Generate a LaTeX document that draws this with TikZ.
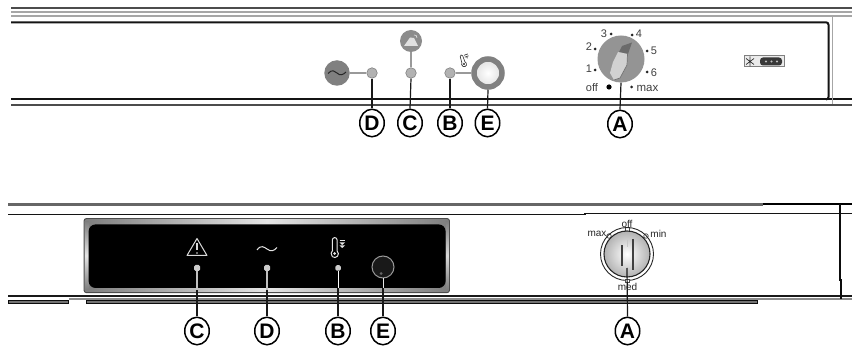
\documentclass[tikz,border=0pt]{standalone}
\usepackage{fontspec}
\setmainfont{Liberation Sans}
\usetikzlibrary{shapes.geometric}
\definecolor{txtgray}{gray}{0.25}
\tikzset{
  x=1pt,y=-1pt,
  callout/.style={ellipse,draw=black,line width=1.5pt,fill=white,minimum width=24.5pt,minimum height=27.5pt,inner sep=0pt,font=\fontsize{21}{21}\selectfont\bfseries},
  lead/.style={draw=black!90,line width=1.2pt},
  graylead/.style={draw=black!40,line width=1.5pt},
  led/.style={circle,draw=black!50,fill=black!30,line width=.6pt,minimum size=10.5pt,inner sep=0pt},
  bled/.style={rectangle,rounded corners=1.5pt,fill=black!20,minimum size=6pt,inner sep=0pt},
  scaletext/.style={text=txtgray,inner sep=0pt,font=\fontsize{11}{11}\selectfont},
  smalltext/.style={text=black!85,inner sep=0pt,font=\fontsize{10}{10}\selectfont},
  thick rule/.style={draw=black!92,line width=2pt},
  mid rule/.style={draw=black!70,line width=1.5pt},
  soft rule/.style={draw=black!35,line width=1.2pt},
  tick/.style={circle,fill=black!85,minimum size=3pt,inner sep=0pt},
  knobmark/.style={circle,draw=black!70,fill=white,line width=.7pt,minimum size=4.5pt,inner sep=0pt},
}
\begin{document}
\begin{tikzpicture}
\useasboundingbox (0,0) rectangle (852,347);
\fill[white] (0,0) rectangle (852,347);
% ===== top panel rules
\path[mid rule] (11,8) -- (852,8);
\path[soft rule,line width=2pt] (11,11.7) -- (852,11.7);
\path[soft rule] (11,16) -- (852,16);
\path[thick rule] (11,22.3) -- (826,22.3) arc[start angle=-90,end angle=0,radius=2.5] -- (828.5,97) arc[start angle=0,end angle=90,radius=2.5];
\path[thick rule] (11,98.6) -- (852,98.6);
\path[mid rule,line width=2pt] (11,104.6) -- (852,104.6);
\path[draw=black!35,line width=1.3pt] (832.8,16) -- (832.8,104);
% ===== top indicators
\node[circle,fill=black!50,minimum size=25.5pt,inner sep=0pt] (sine) at (337,73) {};
\draw[black!85,line width=1pt] (328,73.5) .. controls (332,69) and (335,71) .. (337,73) .. controls (340,76) and (343,75) .. (346,72);
\node[circle,fill=black!45,minimum size=22pt,inner sep=0pt] (warn) at (411,41) {};
\fill[black!12] (404,46) -- (410,37.5) -- (414,38) -- (418,46) -- cycle;
\draw[black!10,line width=.6pt] (414,35) .. controls (416,34.5) and (417,36) .. (417,38);
\node[led] (ledD) at (372,73) {};
\node[led] (ledC) at (411,73) {};
\node[led] (ledB) at (450,73) {};
\node[circle,draw=black!50,line width=5.5pt,minimum size=28pt,inner sep=0pt,inner color=white,outer color=black!12] (knobE) at (488,73) {};
\draw[graylead] (sine) -- (ledD);
\draw[graylead] (warn) -- (ledC);
\draw[graylead] (ledB) -- (knobE);
% top thermometer icon
\begin{scope}[shift={(463,61)},rotate=20]
  \draw[black!75,line width=.7pt] (-1.1,-5) arc[start angle=180,end angle=360,radius=1.3] -- (1.5,1.5) arc[start angle=-50,end angle=230,radius=2.5] -- cycle;
  \fill[black!75] (-.1,3.2) circle (1.2);
  \draw[black!75,line width=.7pt] (3,-5) -- (7,-5) (3,-3) -- (7,-3) (5,-3) -- (5,-1);
\end{scope}
% ===== top dial
\node[circle,fill=black!42,minimum size=47pt,inner sep=0pt] (dialT) at (621,59) {};
\fill[black!58] (619,52) -- (622,46) -- (632,42.5) -- (628,54) -- cycle;
\fill[black!18] (618,52) -- (627.5,54) -- (627,65) -- (620,78) -- (614,80) -- (610,73) -- (613,62) -- cycle;
\draw[black!55,line width=.7pt] (627.5,54) -- (627,65) -- (620,78) -- (614,80);
\node[scaletext] (n3) at (604,34) {3};
\node[tick] (t3) at (611,34) {};
\node[tick] (t4) at (632,35) {};
\node[scaletext] (n4) at (639,34) {4};
\node[scaletext] (n2) at (589,47) {2};
\node[tick] (t2) at (595,49) {};
\node[tick] (t5) at (647,51) {};
\node[scaletext] (n5) at (654,51) {5};
\node[scaletext] (n1) at (589,69) {1};
\node[tick] (t1) at (595,70) {};
\node[tick] (t6) at (647,72) {};
\node[scaletext] (n6) at (654,73) {6};
\node[scaletext] (off1) at (592,87.5) {off};
\node[circle,fill=black,minimum size=5.2pt,inner sep=0pt] (toff) at (609,87) {};
\node[tick] (tmax) at (631.5,87) {};
\node[scaletext,font=\fontsize{11.5}{11.5}\selectfont] (max1) at (647.5,88) {max};
% badge
\node[draw=black!50,fill=black!8,line width=1pt,minimum width=40pt,minimum height=11pt,inner sep=0pt] (badge) at (764,61.5) {};
\draw[black!80,line width=.7pt] (750,56.5) -- (750,66.5) (746,58.5) -- (754,64.5) (746,64.5) -- (754,58.5);
\fill[black!78,rounded corners=3pt] (760,57.5) rectangle (782,65.5);
\fill[black!25] (766,61.5) circle (1.2) (771.5,61.5) circle (1.2) (777,61.5) circle (1.2);
% ===== top callouts
\node[callout] (lblD) at (372,123) {D};
\node[callout] (lblC) at (410,123) {C};
\node[callout] (lblB) at (450,123) {B};
\node[callout] (lblE) at (487.5,123) {E};
\node[callout] (lblA) at (620,124) {A};
\draw[lead] (ledD.south) -- (lblD.north);
\draw[lead] (ledC.south) -- (lblC.north);
\draw[lead] (ledB.south) -- (lblB.north);
\draw[lead] (knobE.south) -- (lblE.north);
\draw[lead] (dialT.south) -- (lblA.north);
% ===== bottom panel rules
\path[draw=black!60,line width=3pt] (8,204.5) -- (763,204.5);
\draw[black,line width=1.6pt] (763,204) -- (852,204);
\path[thick rule,line width=1.5pt] (8,214.7) -- (585,214.7) -- (585,213.6) -- (852,213.6);
\draw[black!90,line width=1.2pt] (8,296) -- (852,296);
\draw[black!45,line width=1.2pt] (69,299) -- (852,299);
\fill[black!55,draw=black!95,line width=1pt] (8,300.2) rectangle (68.5,304);
\fill[black!55,draw=black!95,line width=1pt] (86,300.2) rectangle (757,304);
\draw[black!95,line width=1.4pt] (840,204) -- (840,280) -- (841,280) -- (841,299);
% ===== black panel
\fill[black!50,rounded corners=2.5pt] (84,218.5) rectangle (449.5,292.7);
\shade[left color=black!50,right color=black!50,middle color=black!10] (88,219.3) rectangle (446,224.5);
\shade[left color=black!50,right color=black!50,middle color=black!10] (88,288) rectangle (446,292);
\shade[top color=black!50,bottom color=black!50,middle color=black!10] (84.8,222) rectangle (88.6,289);
\shade[top color=black!50,bottom color=black!50,middle color=black!15] (445.8,222) rectangle (449,289);
\fill[black,rounded corners=7pt] (88.6,224.4) rectangle (445.6,288);
\draw[black!70,line width=.9pt,rounded corners=2.5pt] (84,218.5) rectangle (449.5,292.7);
% warning icon
\node[bled] (ledC2) at (197,268) {};
\draw[white!85!black,line width=1pt,line join=round] (187,255.5) -- (197,238.5) -- (207,255.5) -- cycle;
\draw[white!85!black,line width=1.2pt] (197,243.5) -- (197,250);
\fill[white!85!black] (197,253) circle (.8);
% wave icon
\node[bled] (ledD2) at (267,268) {};
\draw[white!90!black,line width=1pt] (257,250) .. controls (261,244.5) and (264,247) .. (267,249) .. controls (271,252) and (274,251) .. (277,247.5);
% thermometer icon
\node[bled,minimum size=5.5pt] (ledB2) at (338,268) {};
\draw[white!90!black,line width=1pt] (332.3,251) -- (332.3,240) arc[start angle=180,end angle=360,radius=2.4] -- (337.1,251) arc[start angle=-50,end angle=230,radius=3.7] -- cycle;
\fill[white!90!black] (334.7,253.5) circle (1.5);
\draw[white!90!black,line width=.8pt] (339.5,240.5) -- (345,240.5);
\fill[white!90!black] (339.5,242.5) -- (345,242.5) -- (342.2,245) -- cycle;
\fill[white!90!black] (339.5,245.5) -- (345,245.5) -- (342.2,248) -- cycle;
% E button
\node[circle,draw=black!40,line width=1pt,minimum size=22pt,inner sep=0pt,fill=black!90] (btnE) at (383,267) {};
\fill[black!60] (381,273.5) circle (1.5);
% ===== bottom dial
\node[knobmark,rectangle,minimum size=3.6pt] (mOff) at (627.5,229.5) {};
\node[knobmark] (mMax) at (609,236) {};
\node[knobmark] (mMin) at (646,236) {};
\draw[black!85,line width=.9pt] (627,254) circle (26.5);
\node[circle,draw=black!85,line width=1.1pt,minimum size=46pt,inner sep=0pt,inner color=white,outer color=black!30] (dialB) at (627,254) {};
\draw[black!75,line width=1.3pt] (622,245.5) -- (622,266);
\draw[black!75,line width=1.3pt] (633,239) -- (633,270);
\draw[black!22,line width=1pt] (627,240) -- (627,247);
\node[knobmark,rectangle,minimum size=3.6pt] (mMed) at (627.5,281) {};
\node[smalltext] (off2) at (627,223.5) {off};
\node[smalltext] (max2) at (597,233.5) {max};
\node[smalltext] (min2) at (658.5,233.5) {min};
% ===== bottom callouts
\node[callout] (lblC2) at (197,331) {C};
\node[callout] (lblD2) at (267,331) {D};
\node[callout] (lblB2) at (338,331) {B};
\node[callout] (lblE2) at (383,331) {E};
\node[callout] (lblA2) at (627.5,331) {A};
\coordinate (aStart) at (627,268);
\draw[black!25,line width=1.2pt] (ledC2.south) -- (197,290);
\draw[black!25,line width=1.2pt] (ledD2.south) -- (267,290);
\draw[white,line width=1pt] (ledB2.south) -- (338,288);
\draw[white!90!black,line width=1pt] (btnE.south) -- (383,288);
\draw[lead] (197,290) -- (lblC2.north);
\draw[lead] (267,290) -- (lblD2.north);
\draw[lead] (338,288) -- (lblB2.north);
\draw[lead] (383,288) -- (lblE2.north);
\draw[lead] (aStart) -- (lblA2.north);
\node[smalltext] (med2) at (627.5,287) {med};
\end{tikzpicture}
\end{document}
